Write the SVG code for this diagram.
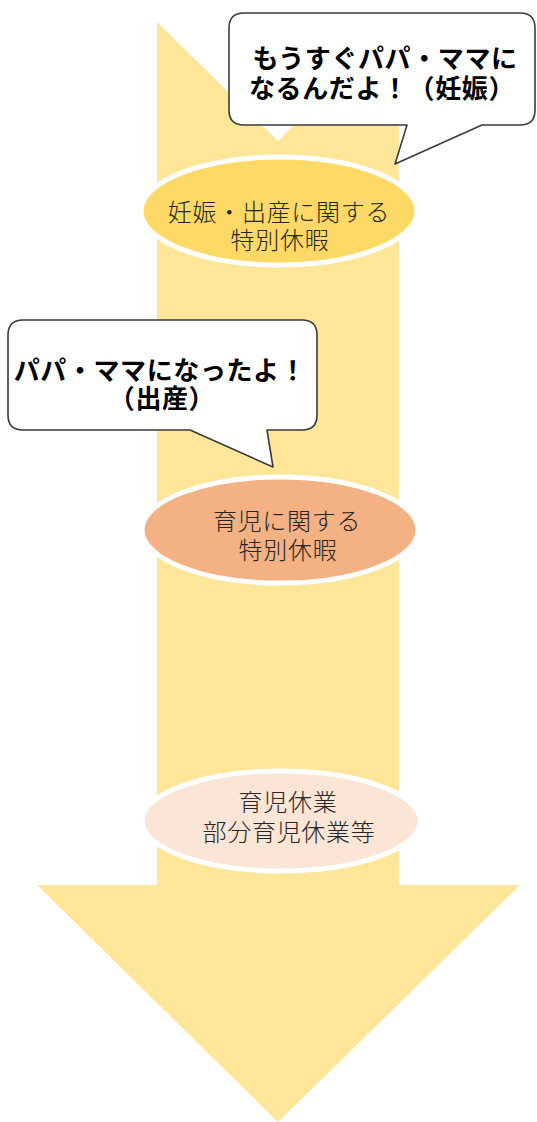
<svg xmlns="http://www.w3.org/2000/svg" width="537" height="1122" viewBox="0 0 537 1122">
  <style>
    .lbl { font-family: "Noto Sans CJK JP", "Noto Sans", sans-serif; font-size: 24px; font-weight: 300; fill: #262626; text-anchor: middle; letter-spacing: 0.7px; }
    .bub { font-family: "Noto Sans CJK JP", "Noto Sans", sans-serif; font-size: 26px; font-weight: 700; fill: #000000; text-anchor: middle; letter-spacing: 0.6px; }
    .ell { stroke: #FFFFFF; stroke-width: 5; }
    .callout { fill: #FFFFFF; stroke: #3A3A3A; stroke-width: 1.6; stroke-linejoin: round; }
  </style>
  <rect width="537" height="1122" fill="#FFFFFF"/>
  <g id="arrow">
    <path d="M157,22 L278,141 L399,22 L399,885 L520,885 L278,1122 L37,885 L157,885 Z" fill="#FFE699"/>
  </g>
  <g id="connectors"></g>
  <g id="node-ninshin">
    <ellipse class="ell" cx="279" cy="211" rx="138" ry="54" fill="#FFD966"/>
    <text class="lbl" x="279" y="221">妊娠・出産に関する</text>
    <text class="lbl" x="280" y="249">特別休暇</text>
  </g>
  <g id="node-ikuji">
    <ellipse class="ell" cx="280" cy="530" rx="138" ry="53" fill="#F4B183"/>
    <text class="lbl" x="287" y="530">育児に関する</text>
    <text class="lbl" x="288" y="559">特別休暇</text>
  </g>
  <g id="node-kyugyo">
    <ellipse class="ell" cx="281" cy="821" rx="139" ry="50" fill="#FBE5D6"/>
    <text class="lbl" x="288" y="811">育児休業</text>
    <text class="lbl" x="289" y="841">部分育児休業等</text>
  </g>
  <g id="bubble-1">
    <path class="callout" d="M244,13 L520,13 Q535,13 535,28 L535,110 Q535,125 520,125 L482,125 L395,164 L407,125 L244,125 Q229,125 229,110 L229,28 Q229,13 244,13 Z"/>
    <text class="bub" x="385" y="68">もうすぐパパ・ママに</text>
    <text class="bub" x="382" y="98">なるんだよ！（妊娠）</text>
  </g>
  <g id="bubble-2">
    <path class="callout" d="M23,320 L302,320 Q317,320 317,335 L317,415 Q317,430 302,430 L267,430 L273,467 L190,430 L23,430 Q8,430 8,415 L8,335 Q8,320 23,320 Z"/>
    <text class="bub" x="160" y="380">パパ・ママになったよ！</text>
    <text class="bub" x="162" y="408">（出産）</text>
  </g>
</svg>
